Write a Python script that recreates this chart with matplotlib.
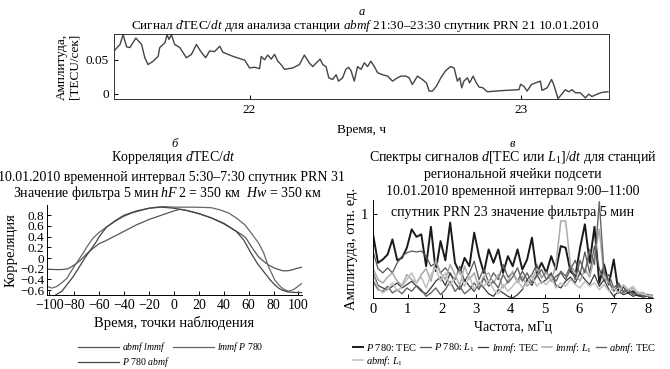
import numpy as np
import matplotlib
matplotlib.use("Agg")
import matplotlib.pyplot as plt

plt.rcParams['font.family'] = ['Liberation Serif', 'DejaVu Serif']
plt.rcParams['mathtext.fontset'] = 'custom'
plt.rcParams['mathtext.rm'] = 'Liberation Serif'
plt.rcParams['mathtext.it'] = 'Liberation Serif:italic'
plt.rcParams['axes.unicode_minus'] = True

# ---------------- panel a: dTEC/dt signal ----------------
time_h = [21.501, 21.516, 21.522, 21.534, 21.547, 21.559, 21.581, 21.602, 21.614, 21.626,
          21.645, 21.663, 21.669, 21.688, 21.696, 21.703, 21.712, 21.724, 21.743, 21.767,
          21.786, 21.804, 21.819, 21.838, 21.853, 21.871, 21.890, 21.902, 21.939, 21.982,
          22.000, 22.018, 22.037, 22.043, 22.055, 22.067, 22.080, 22.092, 22.104, 22.116,
          22.129, 22.159, 22.184, 22.202, 22.221, 22.233, 22.245, 22.260, 22.270, 22.282,
          22.292, 22.306, 22.319, 22.328, 22.343, 22.355, 22.365, 22.374, 22.386, 22.398,
          22.411, 22.423, 22.435, 22.447, 22.460, 22.472, 22.490, 22.509, 22.527, 22.545,
          22.558, 22.576, 22.588, 22.600, 22.619, 22.637, 22.652, 22.662, 22.674, 22.689,
          22.705, 22.723, 22.741, 22.754, 22.766, 22.775, 22.782, 22.790, 22.803, 22.811,
          22.824, 22.836, 22.846, 22.860, 22.876, 22.907, 22.944, 22.993, 22.999, 23.011,
          23.023, 23.039, 23.054, 23.072, 23.078, 23.097, 23.113, 23.121, 23.137, 23.150,
          23.164, 23.176, 23.189, 23.201, 23.219, 23.238, 23.250, 23.262, 23.281, 23.299,
          23.321]
dtec = [0.063, 0.070, 0.072, 0.087, 0.069, 0.068, 0.082, 0.0725, 0.053, 0.043,
        0.048, 0.055, 0.068, 0.075, 0.087, 0.080, 0.087, 0.0725, 0.068, 0.053,
        0.058, 0.0725, 0.063, 0.053, 0.063, 0.062, 0.070, 0.061, 0.055, 0.0495,
        0.038, 0.039, 0.037, 0.055, 0.050, 0.057, 0.051, 0.058, 0.048, 0.043,
        0.036, 0.038, 0.043, 0.057, 0.045, 0.040, 0.045, 0.051, 0.043, 0.040,
        0.0235, 0.021, 0.028, 0.0186, 0.0235, 0.036, 0.039, 0.034, 0.0186, 0.040,
        0.036, 0.0456, 0.040, 0.048, 0.040, 0.031, 0.028, 0.026, 0.0186, 0.0235,
        0.026, 0.026, 0.0235, 0.0137, 0.026, 0.021, 0.016, 0.004, 0.004, 0.0113,
        0.0235, 0.034, 0.040, 0.038, 0.0186, 0.0235, 0.0088, 0.0186, 0.0235, 0.016,
        0.026, 0.016, 0.010, 0.0088, 0.003, 0.004, 0.005, 0.006, 0.014, 0.011,
        0.004, 0.0137, 0.016, 0.0186, 0.005, 0.0088, 0.021, 0.0137, -0.007, -0.001,
        0.006, 0.003, 0.006, 0.0015, 0.0015, -0.006, -0.0005, -0.004, -0.0005, 0.002,
        0.003]
a_xticks = [22, 23]
a_yticks = [0, 0.05]
a_yticklabels = ["0", "0.05"]

# ---------------- panel б: correlation ----------------
lag_abmf_lmmf = [-102, -100, -95, -90, -85, -80, -75, -70, -65, -60, -55, -50, -40, -30, -20,
                 -10, 0, 5, 10, 20, 30, 40, 50, 55, 58, 62, 68, 72, 76, 81, 85, 88, 92, 95, 99, 103]
corr_abmf_lmmf = [-0.21, -0.21, -0.215, -0.215, -0.20, -0.13, -0.04, 0.08, 0.18, 0.27, 0.32,
                  0.38, 0.50, 0.62, 0.72, 0.80, 0.88, 0.91, 0.89, 0.83, 0.75, 0.64, 0.50,
                  0.43, 0.37, 0.22, 0.02, -0.06, -0.13, -0.19, -0.22, -0.24, -0.235, -0.22,
                  -0.19, -0.17]
lag_lmmf_p780 = [-102, -98, -94, -90, -86, -81, -77, -73, -69, -65, -60, -54, -47, -41, -34, -28,
                 -20, -14, -8, 0, 8, 16, 24, 30, 37, 44, 50, 57, 62, 68, 72, 76, 81, 85, 88,
                 92, 96, 99, 103]
corr_lmmf_p780 = [-0.53, -0.56, -0.53, -0.46, -0.38, -0.19, -0.05, 0.09, 0.24, 0.37, 0.48, 0.58,
                  0.69, 0.77, 0.84, 0.88, 0.93, 0.95, 0.96, 0.95, 0.95, 0.95, 0.945, 0.94,
                  0.90, 0.84, 0.75, 0.62, 0.47, 0.28, 0.10, -0.16, -0.41, -0.52, -0.58, -0.62,
                  -0.59, -0.54, -0.47]
lag_p780_abmf = [-95, -90, -86, -81, -75, -71, -67, -63, -60, -54, -47, -40, -30, -20, -10, 0,
                 10, 20, 30, 40, 50, 56, 62, 67, 73, 77, 81, 84, 87, 91, 95, 103]
corr_p780_abmf = [-0.69, -0.62, -0.50, -0.35, -0.13, 0.02, 0.15, 0.28, 0.40, 0.58, 0.70, 0.80,
                  0.88, 0.93, 0.95, 0.93, 0.89, 0.83, 0.75, 0.65, 0.50, 0.34, 0.09, -0.10,
                  -0.28, -0.40, -0.50, -0.56, -0.60, -0.63, -0.64, -0.645]
b_xticks = [-100, -80, -60, -40, -20, 0, 20, 40, 60, 80, 100]
b_xticklabels = ["−100", "−80", "−60", "−40", "−20", "0", "20", "40", "60", "80", "100"]
b_yticks = [-0.6, -0.4, -0.2, 0, 0.2, 0.4, 0.6, 0.8]
b_yticklabels = ["−0.6", "−0.4", "−0.2", "0", "0.2", "0.4", "0.6", "0.8"]

# ---------------- panel в: spectra ----------------
freq_mhz = [round(0.14 * i, 2) for i in range(59)]
p780_tec = [0.75, 0.42, 0.46, 0.52, 0.70, 0.45, 0.48, 0.60, 0.82, 0.73,
            0.76, 0.38, 0.85, 0.32, 0.68, 0.45, 0.90, 0.42, 0.30, 0.48,
            0.38, 0.78, 0.50, 0.30, 0.58, 0.42, 0.58, 0.30, 0.50, 0.38,
            0.58, 0.34, 0.46, 0.72, 0.30, 0.42, 0.30, 0.50, 0.34, 0.62,
            0.60, 0.32, 0.26, 0.60, 0.88, 0.42, 0.85, 0.18, 0.40, 0.16,
            0.46, 0.06, 0.14, 0.06, 0.08, 0.03, 0.02, 0.04, 0.02]
p780_l1 = [0.55, 0.35, 0.30, 0.36, 0.30, 0.42, 0.50, 0.54, 0.56, 0.55,
           0.56, 0.50, 0.38, 0.42, 0.30, 0.36, 0.28, 0.22, 0.38, 0.20,
           0.30, 0.44, 0.22, 0.35, 0.18, 0.30, 0.22, 0.40, 0.25, 0.30,
           0.20, 0.32, 0.22, 0.28, 0.40, 0.24, 0.32, 0.20, 0.26, 0.30,
           0.22, 0.34, 0.45, 0.28, 0.55, 0.30, 0.62, 0.35, 0.20, 0.28,
           0.12, 0.18, 0.08, 0.10, 0.05, 0.06, 0.03, 0.02, 0.01]
lmmf_tec = [0.30, 0.15, 0.12, 0.10, 0.14, 0.18, 0.12, 0.16, 0.20, 0.14,
            0.08, 0.05, 0.12, 0.20, 0.25, 0.15, 0.30, 0.18, 0.10, 0.22,
            0.14, 0.08, 0.18, 0.12, 0.05, 0.02, 0.10, 0.06, 0.02, 0.00,
            0.04, 0.10, 0.22, 0.15, 0.28, 0.18, 0.22, 0.30, 0.15, 0.12,
            0.20, 0.25, 0.18, 0.30, 0.22, 0.16, 0.28, 0.14, 0.22, 0.10,
            0.02, 0.08, 0.04, 0.06, 0.02, 0.04, 0.01, 0.02, 0.00]
lmmf_l1 = [0.35, 0.22, 0.18, 0.25, 0.30, 0.20, 0.15, 0.28, 0.22, 0.18,
           0.28, 0.35, 0.20, 0.45, 0.30, 0.22, 0.40, 0.28, 0.15, 0.38,
           0.22, 0.30, 0.12, 0.26, 0.30, 0.18, 0.28, 0.12, 0.20, 0.32,
           0.18, 0.26, 0.14, 0.20, 0.35, 0.25, 0.30, 0.20, 0.40, 0.92,
           0.92, 0.40, 0.30, 0.20, 0.35, 0.25, 0.50, 0.82, 0.25, 0.18,
           0.10, 0.12, 0.15, 0.08, 0.12, 0.05, 0.07, 0.03, 0.04]
abmf_tec = [0.20, 0.10, 0.08, 0.14, 0.06, 0.10, 0.05, 0.12, 0.08, 0.15,
            0.10, 0.02, 0.06, 0.12, 0.04, 0.10, 0.20, 0.08, 0.14, 0.05,
            0.10, 0.18, 0.10, 0.24, 0.14, 0.20, 0.12, 0.28, 0.18, 0.25,
            0.36, 0.20, 0.30, 0.18, 0.26, 0.34, 0.22, 0.28, 0.20, 0.32,
            0.26, 0.38, 0.22, 0.45, 0.30, 0.58, 0.40, 1.15, 0.30, 0.20,
            0.08, 0.16, 0.06, 0.10, 0.04, 0.07, 0.02, 0.03, 0.01]
abmf_l1 = [0.28, 0.12, 0.06, 0.10, 0.18, 0.08, 0.14, 0.22, 0.30, 0.18,
           0.25, 0.12, 0.28, 0.36, 0.20, 0.30, 0.15, 0.25, 0.32, 0.14,
           0.26, 0.10, 0.20, 0.14, 0.22, 0.10, 0.05, 0.16, 0.08, 0.14,
           0.22, 0.12, 0.18, 0.26, 0.14, 0.20, 0.16, 0.24, 0.12, 0.18,
           0.14, 0.22, 0.16, 0.12, 0.20, 0.14, 0.18, 0.10, 0.16, 0.08,
           0.12, 0.06, 0.16, 0.10, 0.14, 0.06, 0.05, 0.03, 0.02]
c_xticks = [0, 1, 2, 3, 4, 5, 6, 7, 8]
c_yticks = [1]

FS = 9.5
fig = plt.figure(figsize=(6.7, 3.69), dpi=100)

# ---- panel a ----
axa = fig.add_axes([0.170, 0.732, 0.739, 0.176])
axa.plot(time_h, dtec, color='#444444', lw=1.0)
axa.set_xlim(21.5, 23.325)
axa.set_ylim(-0.0075, 0.088)
axa.set_xticks(a_xticks)
axa.set_xticklabels([str(t) for t in a_xticks])
axa.set_yticks(a_yticks)
axa.set_yticklabels(a_yticklabels)
axa.tick_params(direction='in', length=3, labelsize=FS, width=0.7)
for s in axa.spines.values():
    s.set_linewidth(0.7)
    s.set_color('#333333')
axa.set_xlabel("Время, ч", fontsize=FS, labelpad=6)
axa.set_ylabel("Амплитуда,\n[TECU/сек]", fontsize=FS, labelpad=4, linespacing=1.0)
fig.text(0.540, 0.967, "$a$", ha='center', va='center', fontsize=9)
fig.text(0.545, 0.930, "Сигнал $d$TEC/$dt$ для анализа станции $abmf$ 21:30–23:30 спутник PRN 21 10.01.2010",
         ha='center', va='center', fontsize=FS)

# ---- panel б ----
axb = fig.add_axes([0.070, 0.2005, 0.381, 0.2439])
l1, = axb.plot(lag_abmf_lmmf, corr_abmf_lmmf, color='#555555', lw=0.9)
l2, = axb.plot(lag_lmmf_p780, corr_lmmf_p780, color='#666666', lw=0.9)
l3, = axb.plot(lag_p780_abmf, corr_p780_abmf, color='#444444', lw=0.9)
axb.set_xlim(-102, 103)
axb.set_ylim(-0.69, 0.99)
axb.set_xticks(b_xticks)
axb.set_xticklabels(b_xticklabels)
axb.set_yticks(b_yticks)
axb.set_yticklabels(b_yticklabels)
axb.tick_params(direction='in', length=3, labelsize=10, width=0.7, pad=3)
axb.tick_params(axis='y', pad=2, labelsize=9.5)
axb.spines['top'].set_visible(False)
axb.spines['right'].set_visible(False)
for s in ('left', 'bottom'):
    axb.spines[s].set_linewidth(0.7)
axb.set_xlabel("Время, точки наблюдения", fontsize=10.5, labelpad=3)
axb.set_ylabel("Корреляция", fontsize=10.5, labelpad=2)
fig.text(0.261, 0.610, "$б$", ha='center', va='center', fontsize=9)
fig.text(0.259, 0.572, "Корреляция $d$TEC/$dt$", ha='center', va='center', fontsize=10)
fig.text(0.256, 0.520, "10.01.2010 временной интервал 5:30–7:30 спутник PRN 31",
         ha='center', va='center', fontsize=10)
fig.text(0.250, 0.477, "Значение фильтра 5 мин $hF\\,2$ = 350 км  $Hw$ = 350 км",
         ha='center', va='center', fontsize=10)
axb.legend([l1, l3, l2], ["$abmf\\ lmmf$", "$P\\ 780\\ abmf$", "$lmmf\\ P\\ 780$"],
           loc='upper left', bbox_to_anchor=(0.10, -0.44), ncol=2, frameon=False,
           fontsize=7, handlelength=4.2, columnspacing=0.3, handletextpad=0.3,
           labelspacing=0.05, borderpad=0.1)

# ---- panel в ----
axc = fig.add_axes([0.557, 0.1924, 0.418, 0.2656])
c1, = axc.plot(freq_mhz, p780_tec, color='#1a1a1a', lw=1.4)
c2, = axc.plot(freq_mhz, p780_l1, color='#555555', lw=0.9)
c3, = axc.plot(freq_mhz, lmmf_tec, color='#3a3a3a', lw=0.9)
c4, = axc.plot(freq_mhz, lmmf_l1, color='#aaaaaa', lw=1.1)
c5, = axc.plot(freq_mhz, abmf_tec, color='#666666', lw=1.0)
c6, = axc.plot(freq_mhz, abmf_l1, color='#c0c0c0', lw=1.1)
axc.set_xlim(0, 8.15)
axc.set_ylim(0, 1.17)
axc.set_xticks(c_xticks)
axc.set_yticks(c_yticks)
axc.tick_params(direction='in', length=3, labelsize=10.5, width=0.7)
axc.spines['top'].set_visible(False)
axc.spines['right'].set_visible(False)
for s in ('left', 'bottom'):
    axc.spines[s].set_linewidth(0.7)
axc.set_xlabel("Частота, мГц", fontsize=10, labelpad=4)
axc.set_ylabel("Амплитуда, отн. ед.", fontsize=10.5, labelpad=2)
fig.text(0.765, 0.610, "$в$", ha='center', va='center', fontsize=9)
fig.text(0.765, 0.572, "Спектры сигналов $d$[TEC или $L_1$]/$dt$ для станций",
         ha='center', va='center', fontsize=10)
fig.text(0.765, 0.526, "региональной ячейки подсети", ha='center', va='center', fontsize=10)
fig.text(0.765, 0.480, "10.01.2010 временной интервал 9:00–11:00", ha='center', va='center', fontsize=10)
fig.text(0.765, 0.425, "спутник PRN 23 значение фильтра 5 мин", ha='center', va='center', fontsize=10)
axc.legend([c1, c6, c2, c3, c4, c5],
           ["$P\\ 780$: TEC", "$abmf$: $L_1$", "$P\\ 780$: $L_1$", "$lmmf$: TEC",
            "$lmmf$: $L_1$", "$abmf$: TEC"],
           loc='upper left', bbox_to_anchor=(-0.095, -0.37), ncol=5, frameon=False,
           fontsize=7.5, handlelength=1.0, columnspacing=0.3, handletextpad=0.3,
           labelspacing=0.1, borderpad=0.1)

fig.savefig("out.png", dpi=100)
